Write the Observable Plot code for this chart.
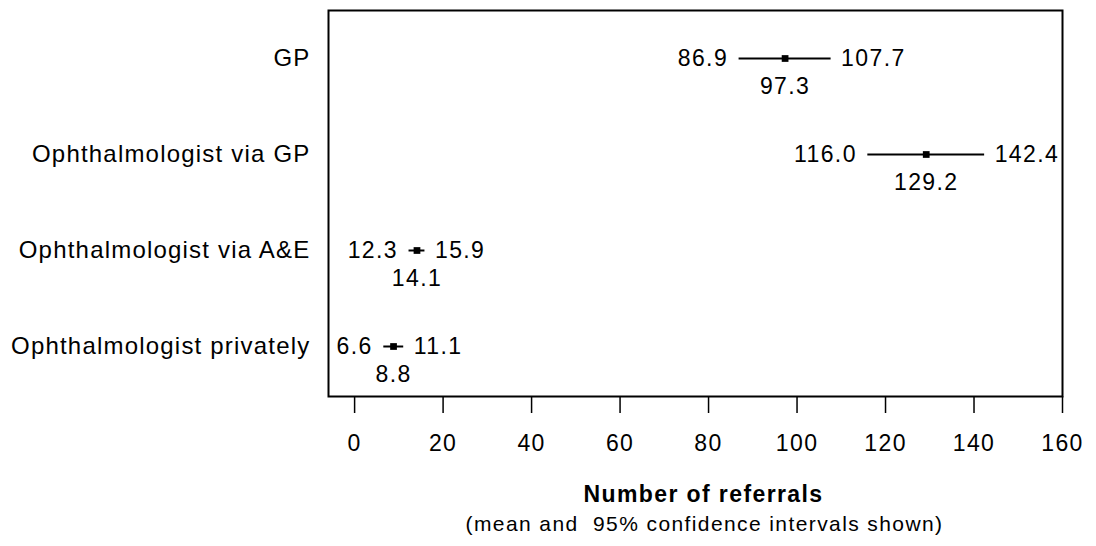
<!DOCTYPE html>
<html>
<head>
<meta charset="utf-8">
<script src="https://cdn.jsdelivr.net/npm/d3@7"></script>
<script src="https://cdn.jsdelivr.net/npm/@observablehq/plot@0.6"></script>
<style>
  html, body { margin: 0; padding: 0; background: #fff; }
  #chart svg { display: block; }
  #chart svg text { letter-spacing: 1.4px; }
  #chart svg g[aria-label="y-axis tick label"] text { letter-spacing: 1.2px; }
</style>
</head>
<body>
<div id="chart"></div>
<script>
const categories = ["GP", "Ophthalmologist via GP", "Ophthalmologist via A&E", "Ophthalmologist privately"];
const means = [97.3, 129.2, 14.1, 8.8];
const lowers = [86.9, 116.0, 12.3, 6.6];
const uppers = [107.7, 142.4, 15.9, 11.1];
const xTicks = [0, 20, 40, 60, 80, 100, 120, 140, 160];

const rows = categories.map((c, i) => ({cat: c, mean: means[i], lo: lowers[i], hi: uppers[i]}));
const fmt = d3.format(".1f");
const FONT = "Liberation Sans, Arial, Helvetica, sans-serif";

const chart = Plot.plot({
  width: 1096,
  height: 546,
  marginLeft: 328,
  marginRight: 34,
  marginTop: 10,
  marginBottom: 150,
  style: {fontFamily: FONT, fontSize: "23px", color: "#000", background: "#fff"},
  x: {domain: [-5.9, 160], ticks: xTicks, label: null},
  y: {domain: categories, type: "point", padding: 0.5, label: null},
  marks: [
    Plot.frame({stroke: "#000", strokeWidth: 2}),
    Plot.axisX({ticks: xTicks, tickSize: 17, tickPadding: 21, strokeWidth: 1.5, tickFormat: d => String(d), fontSize: 23, label: null}),
    Plot.axisY({tickSize: 0, tickPadding: 18, fontSize: 24, dy: -1, label: null}),
    Plot.ruleY(rows, {y: "cat", x1: "lo", x2: "hi", stroke: "#000", strokeWidth: 2, dy: -1}),
    Plot.dot(rows, {x: "mean", y: "cat", symbol: "square", r: 3.8, fill: "#000", stroke: null, dy: -1}),
    Plot.text(rows, {x: "lo", y: "cat", text: d => fmt(d.lo), textAnchor: "end", dx: -11, dy: -1, fontSize: 23, fill: "#000"}),
    Plot.text(rows, {x: "hi", y: "cat", text: d => fmt(d.hi), textAnchor: "start", dx: 10, dy: -1, fontSize: 23, fill: "#000"}),
    Plot.text(rows, {x: "mean", y: "cat", text: d => fmt(d.mean), textAnchor: "middle", dy: 27, fontSize: 23, fill: "#000"}),
    Plot.text(["Number of referrals"], {frameAnchor: "bottom", dx: 8, dy: 105, fontSize: 23, fontWeight: "bold", fill: "#000"}),
    Plot.text(["(mean and  95% confidence intervals shown)"], {frameAnchor: "bottom", dx: 9, dy: 134, fontSize: 21, fill: "#000"})
  ]
});
document.getElementById("chart").appendChild(chart);
</script>
</body>
</html>
